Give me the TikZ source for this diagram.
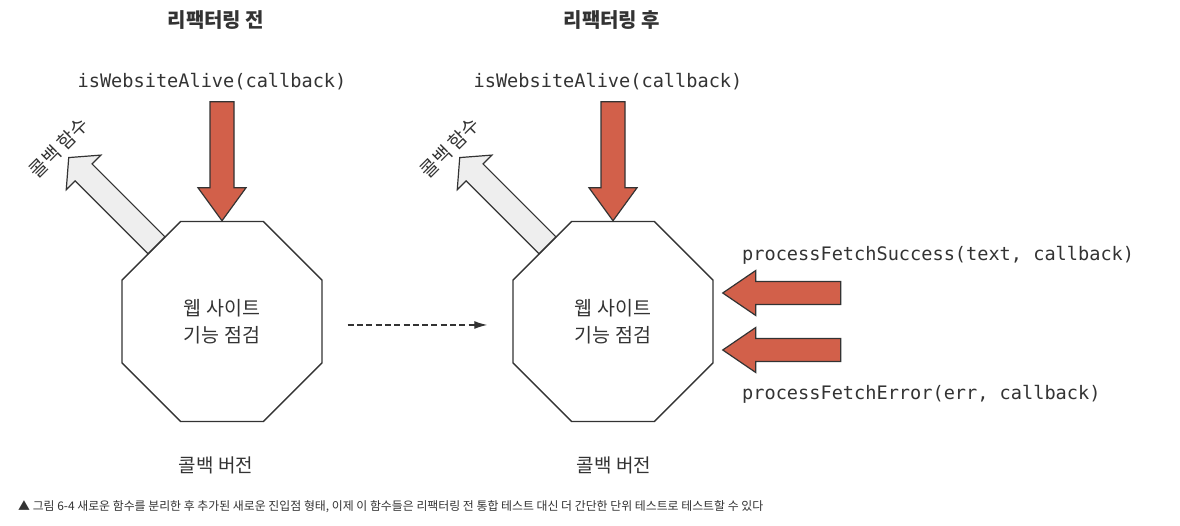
\documentclass[tikz,border=0pt]{standalone}
\usepackage{fontspec}
\newfontfamily\krfont{Noto Sans CJK KR}
\newfontfamily\codefont{DejaVu Sans Mono}
\usetikzlibrary{calc,arrows.meta,shapes.geometric}

\definecolor{arrowred}{HTML}{D2604A}
\definecolor{arrowgray}{HTML}{EEEEEE}
\definecolor{inkgray}{HTML}{333333}

\tikzset{
  station/.style={draw=inkgray, line width=1.4pt, regular polygon, regular polygon sides=8,
    minimum size=216.5pt, inner sep=0pt, align=center, text=inkgray,
    font={\krfont\fontsize{19.5}{27}\selectfont}},
  titletext/.style={inner sep=0pt, text=inkgray, font={\krfont\bfseries\fontsize{20}{24}\selectfont}},
  krtext/.style={inner sep=0pt, text=inkgray, font={\krfont\fontsize{19}{23}\selectfont}},
  codetext/.style={inner sep=0pt, text=inkgray, font={\codefont\fontsize{18.6}{22}\selectfont}},
  captiontext/.style={inner sep=0pt, text=inkgray, font={\krfont\fontsize{11.9}{14}\selectfont}},
  redarrow/.style={fill=arrowred, draw=inkgray, line width=1.2pt},
  grayarrow/.style={fill=arrowgray, draw=inkgray, line width=1.2pt},
  steparrow/.style={draw=inkgray, line width=1.3pt, dash pattern=on 6pt off 3.3pt,
    shorten <=25pt, shorten >=25pt, -{Latex[length=13pt,width=8pt]}},
  % block arrow pointing along +x, tip at the origin: length, shaft, head width, head length
  pics/fatarrow/.style n args={4}{code={
    \draw[pic actions] (0,0) -- (-#4,#3/2) -- (-#4,#2/2) -- (-#1,#2/2)
      -- (-#1,-#2/2) -- (-#4,-#2/2) -- (-#4,-#3/2) -- cycle;
  }}
}

\begin{document}
\begin{tikzpicture}[x=1pt,y=1pt]
  \useasboundingbox (0,0) rectangle (1180,526);

  % Titles
  \node[titletext] (oldtitle) at (216,506) {리팩터링 전};
  \node[titletext] (newtitle) at (612,506) {리팩터링 후};

  % Octagons
  \node[station] (old) at (222,204.5) {웹 사이트\\기능 점검};
  \node[station] (new) at (613,204.5) {웹 사이트\\기능 점검};

  % Entry point names
  \node[codetext] (oldentry) at (212,444) {isWebsiteAlive(callback)};
  \node[codetext] (newentry) at (608,444) {isWebsiteAlive(callback)};
  \node[codetext, anchor=west] (success) at (742,271) {processFetchSuccess(text, callback)};
  \node[codetext, anchor=west] (error) at (742,132) {processFetchError(err, callback)};

  % Entry arrows
  \pic[redarrow, rotate=-90] at (old.north) {fatarrow={119}{24}{48}{33}};
  \pic[redarrow, rotate=-90] at (new.north) {fatarrow={119}{24}{48}{33}};
  \pic[redarrow, rotate=180] at ($(new.east)+(9,28.5)$) {fatarrow={118}{23}{45}{33}};
  \pic[redarrow, rotate=180] at ($(new.east)+(9,-28.5)$) {fatarrow={118}{23}{45}{33}};

  % Callback arrows
  \coordinate (oldtip) at ($(old.157.5)!0.58!(old.112.5)+(135:124)$);
  \coordinate (newtip) at ($(new.157.5)!0.58!(new.112.5)+(135:124)$);
  \pic[grayarrow, rotate=135] at (oldtip) {fatarrow={124}{24}{49}{21}};
  \pic[grayarrow, rotate=135] at (newtip) {fatarrow={124}{24}{49}{21}};
  \node[krtext, rotate=45, anchor=south] (oldcb) at ($(oldtip)+(135:5)$) {콜백 함수};
  \node[krtext, rotate=45, anchor=south] (newcb) at ($(newtip)+(135:5)$) {콜백 함수};

  % Version labels
  \node[krtext] (oldver) at (216,61) {콜백 버전};
  \node[krtext] (newver) at (614,61) {콜백 버전};

  % Refactoring step
  \draw[steparrow] ([yshift=-3.5pt]old.east) -- ([yshift=-3.5pt]new.west);

  % Caption
  \node[captiontext, anchor=west] (caption) at (18,19) {▲ 그림 6-4 새로운 함수를 분리한 후 추가된 새로운 진입점 형태, 이제 이 함수들은 리팩터링 전 통합 테스트 대신 더 간단한 단위 테스트로 테스트할 수 있다};
\end{tikzpicture}
\end{document}
